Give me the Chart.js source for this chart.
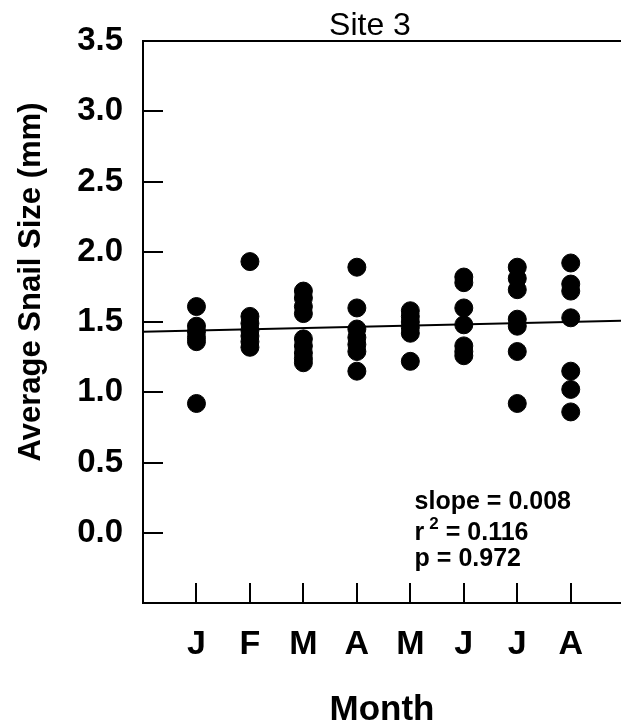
<!DOCTYPE html>
<html>
<head>
<meta charset="utf-8">
<script src="https://cdn.jsdelivr.net/npm/chart.js@4/dist/chart.umd.min.js"></script>
<style>
html,body{margin:0;padding:0;background:#fff;}
#wrap{width:621px;height:728px;position:relative;}
</style>
</head>
<body>
<div id="wrap"><canvas id="c"></canvas></div>
<script>
// ---- data ----
const monthLabels = ['J','F','M','A','M','J','J','A'];
const janVals = [1.61, 1.47, 1.43, 1.39, 1.36, 0.92];
const febVals = [1.93, 1.54, 1.49, 1.44, 1.40, 1.36, 1.32];
const marVals = [1.72, 1.67, 1.61, 1.56, 1.38, 1.33, 1.28, 1.24, 1.21];
const aprVals = [1.89, 1.60, 1.45, 1.39, 1.34, 1.29, 1.15];
const mayVals = [1.58, 1.54, 1.50, 1.46, 1.42, 1.22];
const junVals = [1.82, 1.78, 1.60, 1.48, 1.33, 1.29, 1.26];
const julVals = [1.89, 1.81, 1.73, 1.52, 1.47, 1.29, 0.92];
const augVals = [1.92, 1.77, 1.72, 1.53, 1.15, 1.02, 0.86];
const fitX = [0, 9];
const fitY = [1.43, 1.51];
const yTickValues = [3.5, 3.0, 2.5, 2.0, 1.5, 1.0, 0.5, 0.0];
const statLines = ['slope = 0.008', 'r', '2', ' = 0.116', 'p = 0.972'];

const monthly = [janVals, febVals, marVals, aprVals, mayVals, junVals, julVals, augVals];
const points = [];
monthly.forEach((arr, i) => arr.forEach(v => points.push({x: i + 1, y: v})));
const fitPts = fitX.map((x, i) => ({x: x, y: fitY[i]}));

const FONT = "'Liberation Sans', Arial, sans-serif";

const decor = {
  id: 'decor',
  beforeDatasetsDraw(chart) {
    const ctx = chart.ctx, a = chart.chartArea;
    const xs = chart.scales.x, ys = chart.scales.y;
    ctx.save();
    ctx.strokeStyle = '#000';
    ctx.lineWidth = 2;
    ctx.beginPath();
    yTickValues.forEach(v => {
      const py = Math.round(ys.getPixelForValue(v));
      ctx.moveTo(a.left, py); ctx.lineTo(a.left + 20, py);
    });
    monthLabels.forEach((m, i) => {
      const px = Math.round(xs.getPixelForValue(i + 1));
      ctx.moveTo(px, a.bottom); ctx.lineTo(px, a.bottom - 20);
    });
    ctx.stroke();
    ctx.restore();
  },
  afterDraw(chart) {
    const ctx = chart.ctx, a = chart.chartArea;
    const xs = chart.scales.x, ys = chart.scales.y;
    ctx.save();
    ctx.fillStyle = '#000';
    // title
    ctx.font = '32px ' + FONT;
    ctx.textAlign = 'center';
    ctx.textBaseline = 'alphabetic';
    ctx.fillText('Site 3', a.left + 227, 35);
    // y title
    ctx.save();
    ctx.translate(31, a.top + 241);
    ctx.rotate(-Math.PI / 2);
    ctx.font = 'bold 31px ' + FONT;
    ctx.textBaseline = 'middle';
    ctx.fillText('Average Snail Size (mm)', 0, 0);
    ctx.restore();
    // stats
    ctx.textAlign = 'left';
    ctx.font = 'bold 25px ' + FONT;
    const lx = xs.getPixelForValue(5.08);
    ctx.fillText(statLines[0], lx, ys.getPixelForValue(0.17));
    const b2 = ys.getPixelForValue(-0.05);
    ctx.fillText(statLines[1], lx, b2);
    let w = ctx.measureText(statLines[1]).width;
    ctx.font = 'bold 17px ' + FONT;
    ctx.fillText(statLines[2], lx + w + 5, b2 - 11);
    const w2 = ctx.measureText(statLines[2]).width;
    ctx.font = 'bold 25px ' + FONT;
    ctx.fillText(statLines[3], lx + w + 5 + w2, b2);
    ctx.fillText(statLines[4], lx, ys.getPixelForValue(-0.24));
    ctx.restore();
  }
};

new Chart(document.getElementById('c'), {
  type: 'scatter',
  data: {
    datasets: [
      {
        type: 'line',
        data: fitPts,
        borderColor: '#000',
        borderWidth: 2,
        pointRadius: 0,
        fill: false,
        order: 2
      },
      {
        data: points,
        backgroundColor: '#000',
        borderColor: '#000',
        pointRadius: 9,
        pointHoverRadius: 9,
        order: 1
      }
    ]
  },
  options: {
    responsive: true,
    maintainAspectRatio: false,
    animation: false,
    events: [],
    layout: {autoPadding: false, padding: {top: 41, right: 0, bottom: 0, left: 0}},
    plugins: {legend: {display: false}, tooltip: {enabled: false}, title: {display: false}},
    scales: {
      x: {
        type: 'linear',
        position: 'bottom',
        min: 0,
        max: 8.94,
        afterBuildTicks: s => { s.ticks = monthLabels.map((m, i) => ({value: i + 1})); },
        afterFit: s => { s.height = 125; },
        ticks: {
          autoSkip: false,
          maxRotation: 0,
          padding: 21,
          color: '#000',
          font: {family: FONT, size: 34, weight: 'bold'},
          callback: v => monthLabels[v - 1] || ''
        },
        grid: {display: false, drawTicks: false},
        border: {display: true, color: '#000', width: 2},
        title: {
          display: true,
          text: 'Month',
          color: '#000',
          font: {family: FONT, size: 35, weight: 'bold'},
          padding: {top: 0, bottom: -3}
        }
      },
      x2: {
        type: 'linear',
        axis: 'x',
        position: 'top',
        min: 0,
        max: 8.94,
        ticks: {display: false},
        grid: {display: false, drawTicks: false},
        border: {display: true, color: '#000', width: 2}
      },
      y: {
        type: 'linear',
        position: 'left',
        min: -0.5,
        max: 3.5,
        afterBuildTicks: s => { s.ticks = yTickValues.map(v => ({value: v})); },
        afterFit: s => { s.width = 143; },
        ticks: {
          padding: 20,
          color: '#000',
          font: {family: FONT, size: 33, weight: 'bold'},
          callback: v => v.toFixed(1)
        },
        grid: {display: false, drawTicks: false},
        border: {display: true, color: '#000', width: 2}
      }
    }
  },
  plugins: [decor]
});
</script>
</body>
</html>
